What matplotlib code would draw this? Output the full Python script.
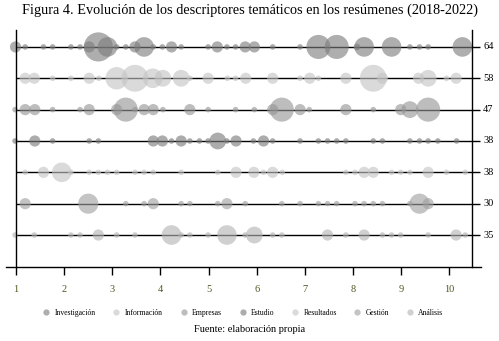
import matplotlib
matplotlib.use("Agg")
import matplotlib.pyplot as plt
from matplotlib.lines import Line2D

plt.rcParams['font.family'] = ['Liberation Serif', 'DejaVu Serif']

title = "Figura 4. Evolución de los descriptores temáticos en los resúmenes (2018-2022)"
source = "Fuente: elaboración propia"
categories = ["Investigación", "Información", "Empresas", "Estudio", "Resultados", "Gestión", "Análisis"]
totals = [64, 58, 47, 38, 38, 30, 35]
colors = ["#7c7c7c", "#c4c4c4", "#959595", "#7a7a7a", "#c4c4c4", "#a0a0a0", "#b4b4b4"]
xticks = [1, 2, 3, 4, 5, 6, 7, 8, 9, 10]

x_investigacion = [0.99, 1.19, 1.57, 1.76, 2.14, 2.33, 2.52, 2.71, 2.90, 3.09, 3.28, 3.47, 3.66, 3.85, 4.04, 4.23,
                   4.43, 4.99, 5.18, 5.38, 5.56, 5.76, 5.95, 6.33, 6.90, 7.28, 7.66, 8.08, 8.23, 8.80, 9.18, 9.38,
                   9.56, 10.27]
v_investigacion = [2, 1, 1, 1, 1, 1, 2, 5.2, 3.5, 1, 1, 2, 3.5, 1, 1, 2,
                   1, 1, 2, 1, 1, 2, 2, 1, 1, 4.3, 4.3, 1.2, 3.5, 3.5, 1, 1,
                   1, 3.5]

x_informacion = [1.19, 1.38, 1.76, 2.14, 2.52, 2.72, 3.09, 3.47, 3.84, 4.05, 4.43, 4.61, 4.99, 5.39, 5.56, 5.77,
                 6.33, 6.90, 7.10, 7.28, 7.85, 8.42, 8.61, 9.36, 9.56, 9.94, 10.14]
v_informacion = [2, 2, 1, 1, 2, 1, 4, 4.8, 3.5, 3, 3, 1, 2, 1, 1, 2,
                 2, 1, 2, 1, 2, 4.8, 2, 2, 3, 1, 2]

x_empresas = [0.98, 1.19, 1.39, 1.76, 2.33, 2.52, 3.09, 3.28, 3.47, 3.66, 3.85, 4.05, 4.61, 4.99, 5.56, 5.95,
              6.33, 6.52, 6.90, 7.09, 7.85, 8.42, 8.99, 9.18, 9.56]
v_empresas = [1, 2, 2, 1, 1, 2, 2, 4.3, 1, 2, 2, 1, 2, 1, 1, 1,
              2, 4.3, 2, 1, 2, 1, 2, 3, 4.3]

x_estudio = [0.98, 1.39, 1.76, 2.52, 2.71, 3.85, 4.04, 4.23, 4.43, 4.61, 4.81, 4.99, 5.19, 5.38, 5.57, 5.93,
             6.14, 6.33, 6.90, 7.28, 7.47, 7.66, 7.85, 8.42, 8.61, 9.18, 9.38, 9.56, 9.76, 10.15]
v_estudio = [1, 2, 1, 1, 1, 2, 2, 1, 2, 1, 1, 1, 3, 1, 2, 1,
             2, 1, 1, 1, 1, 1, 1, 1, 1, 1, 1, 1, 1, 1]

x_resultados = [1.19, 1.57, 1.95, 2.14, 2.52, 2.71, 2.90, 3.09, 3.47, 3.66, 3.85, 4.43, 5.19, 5.57, 5.94, 6.14,
                6.33, 6.53, 7.85, 8.04, 8.23, 8.42, 8.80, 8.99, 9.18, 9.56, 9.94, 10.33]
v_resultados = [1, 2, 3.5, 1, 1, 1, 1, 1, 1, 1, 1, 1, 1, 2, 2, 1,
                2, 1, 1, 1, 2, 2, 1, 1, 1, 2, 1, 1]

x_gestion = [1.19, 2.50, 3.28, 3.66, 3.85, 4.43, 4.61, 5.19, 5.38, 5.76, 6.52, 6.90, 7.28, 7.47, 7.66, 8.04,
             8.23, 8.42, 8.61, 9.18, 9.38, 9.56]
v_gestion = [2, 3.6, 1, 1, 2, 1, 1, 1, 2, 1, 1, 1, 1, 1, 1, 1,
             1, 1, 1, 1, 3.6, 2]

x_analisis = [0.98, 1.38, 2.14, 2.33, 2.71, 3.09, 3.47, 4.23, 4.43, 4.61, 4.99, 5.38, 5.76, 5.95, 6.33, 6.52,
              7.47, 7.85, 8.23, 8.61, 8.80, 8.99, 9.56, 10.14, 10.33]
v_analisis = [1, 1, 1, 1, 2, 1, 1, 3.5, 1, 1, 1, 3.5, 1, 3, 1, 1,
              2, 1, 2, 1, 1, 1, 1, 2, 1]

series_x = [x_investigacion, x_informacion, x_empresas, x_estudio, x_resultados, x_gestion, x_analisis]
series_v = [v_investigacion, v_informacion, v_empresas, v_estudio, v_resultados, v_gestion, v_analisis]

W, H = 499, 341
fig = plt.figure(figsize=(W / 100, H / 100), dpi=100)
ax = fig.add_axes([6 / W, (H - 267) / H, 475 / W, 237 / H])
ax.set_xlim(0.792, 10.657)
ax.set_ylim(-0.02, 7.54)
for s in ax.spines.values():
    s.set_visible(False)

n = len(categories)
px2pt = 72 / 100
for i, (xs, vs, c, tot) in enumerate(zip(series_x, series_v, colors, totals)):
    y = n - i
    ax.plot([1, 10.64], [y, y], color="black", lw=1.0, zorder=1, solid_capstyle="butt")
    sizes = [(2 * 2.8 * v * px2pt) ** 2 for v in vs]
    ax.scatter(xs, [y] * len(xs), s=sizes, color=c, alpha=0.62, linewidths=0, zorder=2, clip_on=False)
    ax.text(10.70, y, str(tot), ha="left", va="center", fontsize=7.5, clip_on=False)

# axes frame lines
ax.plot([1, 1], [-0.02, 7.54], color="black", lw=1.0, clip_on=False, zorder=3)
ax.plot([10.48, 10.48], [-0.02, 7.54], color="black", lw=1.0, clip_on=False, zorder=3)
ax.plot([0.792, 10.657], [-0.02, -0.02], color="black", lw=1.0, clip_on=False, zorder=3)

ax.set_yticks([])
ax.set_xticks(xticks)
ax.set_xticklabels([str(t) for t in xticks])
ax.tick_params(axis="x", length=5.8, width=1.0, direction="out", pad=7, labelsize=7.5,
               labelcolor="#4a5a23")

handles = [Line2D([0], [0], marker="o", linestyle="", markersize=4.5, markerfacecolor=c,
                  markeredgewidth=0, alpha=0.62) for c in colors]
fig.legend(handles, categories, loc="center", bbox_to_anchor=(0.487, 1 - 313 / H), ncol=7,
           frameon=False, fontsize=5.5, handletextpad=0.6, columnspacing=2.2, handlelength=1.0)

fig.text(0.5, 1 - 10 / H, title, ha="center", va="center", fontsize=10.3)
fig.text(0.5, 1 - 330 / H, source, ha="center", va="center", fontsize=7.5)

fig.savefig("out.png", dpi=100)
